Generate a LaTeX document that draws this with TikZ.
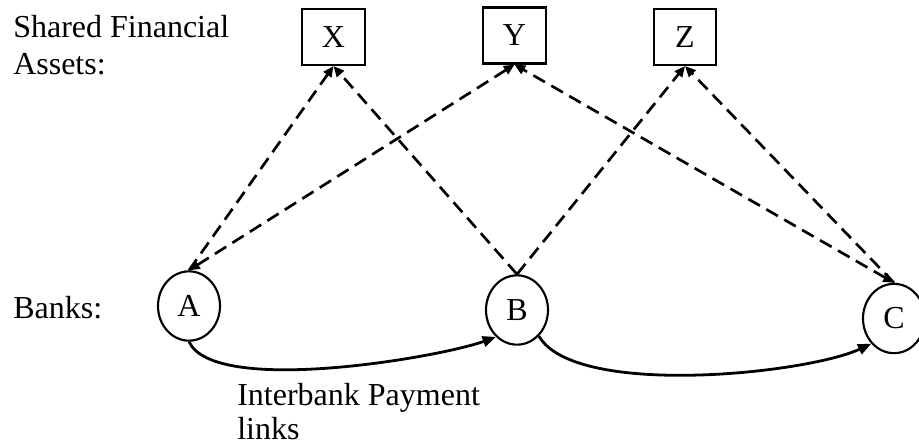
\documentclass[tikz,border=0pt]{standalone}
\usepackage{fontspec}
\setmainfont{Liberation Serif}
\usetikzlibrary{arrows.meta,shapes.geometric}
\begin{document}
\begin{tikzpicture}[x=0.75pt,y=-0.75pt,
  every node/.style={font=\fontsize{24}{28}\selectfont},
  asset/.style={draw,line width=1.6pt,minimum width=47pt,minimum height=42pt,inner sep=0pt},
  bank/.style={draw,ellipse,line width=1.6pt,minimum width=46.5pt,minimum height=52pt,inner sep=0pt},
  lbl/.style={anchor=base west,inner sep=0pt},
  tipd/.tip={Triangle[length=8pt,width=7pt]},
  link/.style={dash pattern=on 10pt off 5.5pt,line width=2pt,-tipd},
  linkboth/.style={link,tipd-tipd},
  pay/.style={line width=2.1pt,-{Triangle[length=10pt,width=8pt]}}
]
\useasboundingbox (0,0) rectangle (919,447);
% labels
\node[lbl] (sf1) at (13,37) {Shared Financial};
\node[lbl] (sf2) at (13,74) {Assets:};
\node[lbl] (bk) at (13,318) {Banks:};
\node[lbl] (ip1) at (237,405) {Interbank Payment};
\node[lbl] (ip2) at (237,439) {links};
% assets
\node[asset] (X) at (333.5,37) {X};
\node[asset] (Y) at (514.5,35.5) {Y};
\node[asset] (Z) at (685,37) {Z};
% banks
\node[bank] (A) at (189,306) {A};
\node[bank] (B) at (517,310) {B};
\node[bank] (C) at (894,318.5) {C};
% exposures
\draw[link] (A.north) -- (X.south);
\draw[linkboth] (A.north) -- (Y.south);
\draw[link] (B.north) -- (X.south);
\draw[link] (B.north) -- (Z.south);
\draw[linkboth] (C.north) -- (Y.south);
\draw[link] (C.north) -- (Z.south);
% payments
\draw[pay] (A.south) to[out=-65,in=200,looseness=0.5] (B.232);
\draw[pay] (B.310) to[out=-60,in=205,looseness=0.55] (C.228);
\end{tikzpicture}
\end{document}
